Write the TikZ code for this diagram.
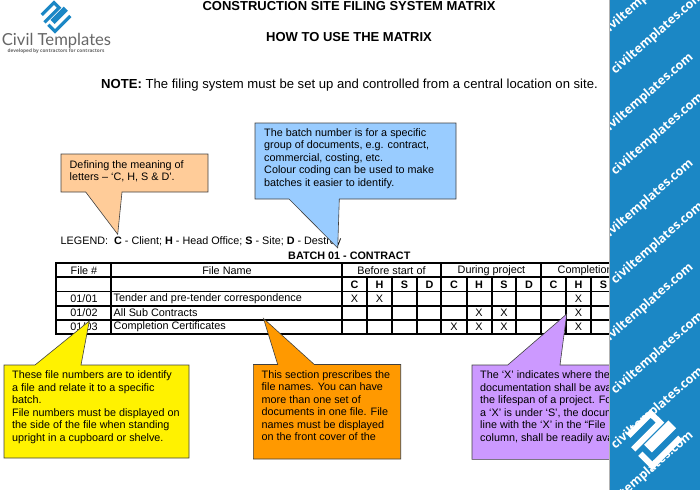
\documentclass[tikz,border=0pt]{standalone}
\usepackage{fontspec}
\setmainfont{Liberation Sans}
\newfontfamily\markfont{Open Sans}
\newfontfamily\namefont{Lato}
\usetikzlibrary{positioning}

\definecolor{tanbox}{HTML}{FFCC99}
\definecolor{skybox}{HTML}{99CCFF}
\definecolor{amberbox}{HTML}{FF9900}
\definecolor{lilacbox}{HTML}{CC99FF}
\definecolor{panelblue}{HTML}{1B87C5}
\definecolor{logogrey}{HTML}{666666}

\tikzset{
  calltext/.style={anchor=north west,inner sep=0pt,align=left,font=\fontsize{10.8}{12.55}\selectfont},
  celltext/.style={inner sep=0pt,font=\fontsize{10.85}{12}\selectfont},
  headtext/.style={inner sep=0pt,font=\fontsize{10.8}{12}\selectfont\bfseries},
  calledge/.style={draw=black!75,line width=.6pt,line join=miter},
  gridline/.style={line width=1.7pt},
  stamptext/.style={anchor=west,inner sep=0pt,rotate=41,text=white,font=\markfont\fontsize{12.4}{12}\selectfont\bfseries}
}

\newcommand{\logomark}[4]{
\begin{scope}[shift={#1},x=#2pt,y=-#2pt,line width=#3pt,draw=#4]
\draw (-25,-2) -- (-2.7,-24.3) -- (6.7,-15) -- (-20,11.7);
\draw (-5,7) -- (15,-13) -- (18.5,-9.5) -- (-1.5,10.5) -- cycle;
\draw (-13,16) -- (-1,28) -- (27,0);
\end{scope}
}

\begin{document}
\begin{tikzpicture}[x=1pt,y=-1pt]

\useasboundingbox (0,0) rectangle (700,490);

\logomark{(55.5,16)}{.55}{3.2}{panelblue}

\node[inner sep=0pt,text=logogrey,font=\namefont\fontsize{16.6}{20}\selectfont] (logoname) at (56.5,41) {Civil Templates};
\node[inner sep=0pt,text=logogrey,font=\markfont\fontsize{4.75}{6}\selectfont\bfseries] (logotag) at (56,51.5) {developed by contractors for contractors};

\node[inner sep=0pt,font=\fontsize{13}{14}\selectfont\bfseries] (title) at (349,6) {CONSTRUCTION SITE FILING SYSTEM MATRIX};
\node[inner sep=0pt,font=\fontsize{13}{14}\selectfont\bfseries] (howto) at (349,37) {HOW TO USE THE MATRIX};
\node[anchor=west,inner sep=0pt,font=\fontsize{13.1}{16}\selectfont] (note) at (101,85) {\textbf{NOTE:} The filing system must be set up and controlled from a central location on site.};

\node[anchor=west,inner sep=0pt,font=\fontsize{10.8}{12}\selectfont] (legend) at (60.5,242) {LEGEND:\ \ \textbf{C} - Client; \textbf{H} - Head Office; \textbf{S} - Site; \textbf{D} - Destroy};
\node[headtext,anchor=west] (batch) at (288,255.5) {BATCH 01 - CONTRACT};

\draw[gridline] (56,277) -- (620,277);
\draw[gridline] (56,291.5) -- (620,291.5);
\draw[gridline] (56,306) -- (620,306);
\draw[gridline] (56,320) -- (620,320);

\draw[gridline] (111,263) -- (111,334);
\draw[gridline] (342,263) -- (342,334);
\draw[gridline] (366.7,277) -- (366.7,334);
\draw[gridline] (391.7,277) -- (391.7,334);
\draw[gridline] (416.7,277) -- (416.7,334);
\draw[gridline] (441,263) -- (441,334);
\draw[gridline] (466.7,277) -- (466.7,334);
\draw[gridline] (491.7,277) -- (491.7,334);
\draw[gridline] (516,277) -- (516,334);
\draw[gridline] (541,263) -- (541,334);
\draw[gridline] (566,277) -- (566,334);
\draw[gridline] (591,277) -- (591,334);
\draw[line width=2pt] (620,263) -- (56,263) -- (56,334) -- (620,334);

\node[celltext] (filenum) at (84,270.5) {File \#};
\node[celltext] (filename) at (227,270.5) {File Name};
\node[celltext] (before) at (391.5,270.5) {Before start of};
\node[celltext] (during) at (491.5,270.5) {During project};
\node[celltext,anchor=west] (compl) at (557.5,270.5) {Completion};

\node[headtext] (ca) at (354.5,285) {C};
\node[headtext] (ha) at (379.5,285) {H};
\node[headtext] (sa) at (404.5,285) {S};
\node[headtext] (da) at (429.5,285) {D};
\node[headtext] (cb) at (454,285) {C};
\node[headtext] (hb) at (479,285) {H};
\node[headtext] (sb) at (504,285) {S};
\node[headtext] (db) at (529,285) {D};
\node[headtext] (cc) at (553.5,285) {C};
\node[headtext] (hc) at (578.5,285) {H};
\node[headtext] (sc) at (603.5,285) {S};

\node[celltext] (numa) at (84,299) {01/01};
\node[celltext] (numb) at (84,313) {01/02};
\node[celltext] (numc) at (84,327) {01/03};

\node[celltext,anchor=west] (namea) at (113.5,299) {Tender and pre-tender correspondence};
\node[celltext,anchor=west] (nameb) at (113.5,313) {All Sub Contracts};
\node[celltext,anchor=west] (namec) at (113.5,327) {Completion Certificates};

\node[celltext] (xa) at (354.5,299) {X};
\node[celltext] (xb) at (379.5,299) {X};
\node[celltext] (xc) at (578.5,299) {X};
\node[celltext] (xd) at (479,313) {X};
\node[celltext] (xe) at (504,313) {X};
\node[celltext] (xf) at (578.5,313) {X};
\node[celltext] (xg) at (454,327) {X};
\node[celltext] (xh) at (479,327) {X};
\node[celltext] (xi) at (504,327) {X};
\node[celltext] (xj) at (578.5,327) {X};

\filldraw[calledge,fill=tanbox] (61,154) -- (208,154) -- (208,192) -- (122,192) -- (117.7,234.3) -- (85.7,192) -- (61,192) -- cycle;
\node[calltext] (tannote) at (69.5,160) {Defining the meaning of\\letters -- ‘C, H, S \& D’.};

\filldraw[calledge,fill=skybox] (255,123) -- (456,123) -- (456,199) -- (339.3,199) -- (337.7,248) -- (289,199) -- (255,199) -- cycle;
\node[calltext] (skynote) at (264,128) {The batch number is for a specific\\group of documents, e.g. contract,\\commercial, costing, etc.\\Colour coding can be used to make\\batches it easier to identify.};

\filldraw[calledge,fill=yellow] (4,365) -- (35,365) -- (89.3,321) -- (81,365) -- (189,365) -- (189,458) -- (4,458) -- cycle;
\node[calltext] (yellownote) at (12,370.5) {These file numbers are to identify\\a file and relate it to a specific\\batch.\\File numbers must be displayed on\\the side of the file when standing\\upright in a cupboard or shelve.};

\filldraw[calledge,fill=amberbox] (253.3,364.5) -- (277.7,364.5) -- (263.5,318.5) -- (314.3,364.5) -- (400.7,364.5) -- (400.7,459) -- (253.3,459) -- cycle;
\node[calltext] (ambernote) at (261.5,370) {This section prescribes the\\file names. You can have\\more than one set of\\documents in one file. File\\names must be displayed\\on the front cover of the};

\filldraw[calledge,fill=lilacbox] (472,365) -- (507.7,365) -- (566.7,314) -- (560,365) -- (650,365) -- (650,459.3) -- (472,459.3) -- cycle;
\node[calltext] (lilacnote) at (480,370.5) {The ‘X’ indicates where the\\documentation shall be available\\the lifespan of a project. For\\a ‘X’ is under ‘S’, the document\\line with the ‘X’ in the “File\\column, shall be readily available};

\fill[panelblue] (609.5,0) rectangle (700,490);
\draw[black!30,line width=.5pt] (609.5,0) -- (609.5,490);

\begin{scope}
\clip (610,0) rectangle (700,490);
\node[stamptext] (stampa) at (603,34) {civiltemplates.com};
\node[stamptext] (stampb) at (613,72) {civiltemplates.com};
\node[stamptext] (stampc) at (603,133) {civiltemplates.com};
\node[stamptext] (stampd) at (613,173) {civiltemplates.com};
\node[stamptext] (stampe) at (603,239) {civiltemplates.com};
\node[stamptext] (stampf) at (613,282) {civiltemplates.com};
\node[stamptext] (stampg) at (603,343) {civiltemplates.com};
\node[stamptext] (stamph) at (613,392) {civiltemplates.com};
\node[stamptext] (stampi) at (613,447) {civiltemplates.com};
\end{scope}

\fill[panelblue] (626,436) -- (650,411) -- (681,438) -- (652,467) -- cycle;
\logomark{(653.3,437.7)}{1}{6}{white}

\begin{scope}
\clip (610,0) rectangle (700,490);
\node[stamptext] (stampj) at (603,511) {civiltemplates.com};
\end{scope}

\end{tikzpicture}
\end{document}
